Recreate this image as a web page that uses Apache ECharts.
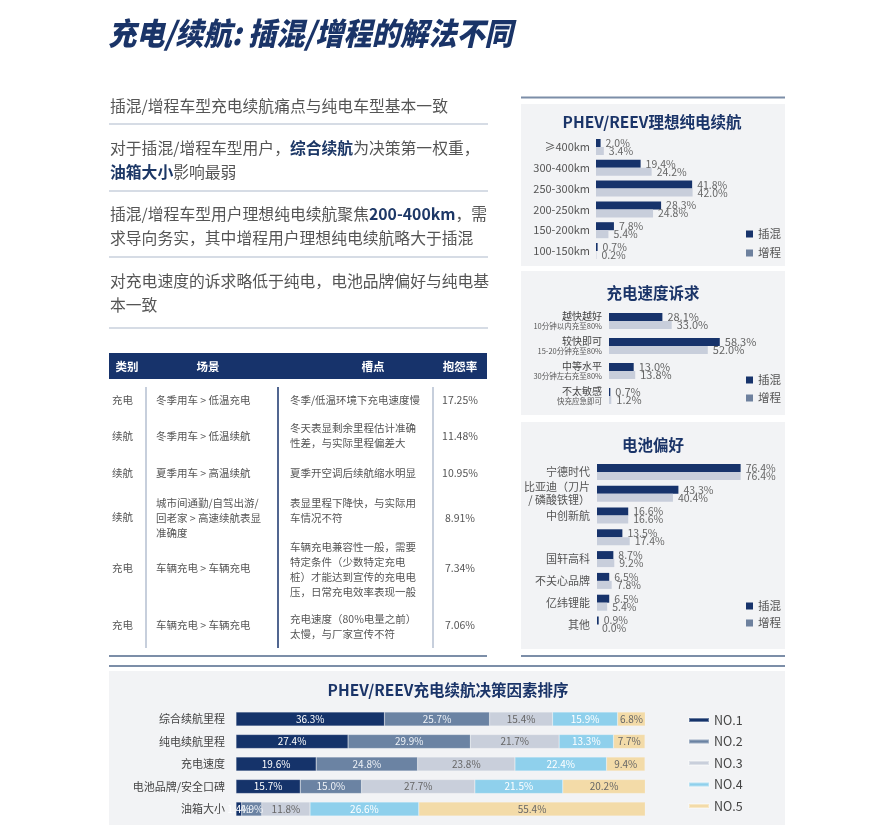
<!DOCTYPE html>
<html><head><meta charset="utf-8">
<script src="https://cdn.jsdelivr.net/npm/echarts@6/dist/echarts.min.js"></script>
<style>html,body{margin:0;padding:0;background:#fff}#c{width:890px;height:825px}</style>
</head><body><div id="c"></div>
<script>
const FONT = '"Noto Sans CJK SC","Noto Sans",sans-serif';
const NAVY = '#17336b';
const LIGHT = '#c8cedb';
const LINEC = '#7c8ea8';

// ---- data ----
const rangeCats = ['≥400km','300-400km','250-300km','200-250km','150-200km','100-150km'];
const rangePHEV = [2.0,19.4,41.8,28.3,7.8,0.7];
const rangeREEV = [3.4,24.2,42.0,24.8,5.4,0.2];

const speedCats = ['越快越好','较快即可','中等水平','不太敏感'];
const speedSubs = ['10分钟以内充至80%','15-20分钟充至80%','30分钟左右充至80%','快充应急即可'];
const speedPHEV = [28.1,58.3,13.0,0.7];
const speedREEV = [33.0,52.0,13.8,1.2];

const brandCats = ['宁德时代','比亚迪（刀片\n/ 磷酸铁锂）','中创新航','','国轩高科','不关心品牌','亿纬锂能','其他'];
const brandPHEV = [76.4,43.3,16.6,13.5,8.7,6.5,6.5,0.9];
const brandREEV = [76.4,40.4,16.6,17.4,9.2,7.8,5.4,0.0];

const rankCats = ['综合续航里程','纯电续航里程','充电速度','电池品牌/安全口碑','油箱大小'];
const rankNames = ['NO.1','NO.2','NO.3','NO.4','NO.5'];
const rankNo1 = [36.3,27.4,19.6,15.7,1.4];
const rankNo2 = [25.7,29.9,24.8,15.0,4.9];
const rankNo3 = [15.4,21.7,23.8,27.7,11.8];
const rankNo4 = [15.9,13.3,22.4,21.5,26.6];
const rankNo5 = [6.8,7.7,9.4,20.2,55.4];

const tableHead = ['类别','场景','槽点','抱怨率'];
const tableCat = ['充电','续航','续航','续航','充电','充电'];
const tableScene = ['冬季用车 > 低温充电','冬季用车 > 低温续航','夏季用车 > 高温续航','城市间通勤/自驾出游/\n回老家 > 高速续航表显\n准确度','车辆充电 > 车辆充电','车辆充电 > 车辆充电'];
const tablePain = ['冬季/低温环境下充电速度慢','冬天表显剩余里程估计准确\n性差，与实际里程偏差大','夏季开空调后续航缩水明显','表显里程下降快，与实际用\n车情况不符','车辆充电兼容性一般，需要\n特定条件（少数特定充电\n桩）才能达到宣传的充电电\n压，日常充电效率表现一般','充电速度（80%电量之前）\n太慢，与厂家宣传不符'];
const tableRate = ['17.25%','11.48%','10.95%','8.91%','7.34%','7.06%'];

// ---- layout ----
const rowY = [400,436,473,517,568,625];
const painY = [400,436,473,510.5,569.5,627];
const sceneY = [400,436,473,518,568,625];

const chart = echarts.init(document.getElementById('c'));

const pct = p => (+p.value).toFixed(1) + '%';
function barLabel(size){ return {show:true, position:'right', distance:5, formatter:pct, color:'#666', fontSize:size, fontFamily:FONT}; }

const graphic = [];
// panels
[[521,104,264,162],[521,271,264,144],[521,422,264,227],[109,671,676,154]].forEach(r=>{
  graphic.push({type:'rect', z:0, shape:{x:r[0],y:r[1],width:r[2],height:r[3]}, style:{fill:'#f2f3f5'}});
});
// separator lines
[[521,97.5,785,97.5],[109,656,487,656],[521,656,785,656],[109,666,785,666]].forEach(l=>{
  graphic.push({type:'line', z:1, shape:{x1:l[0],y1:l[1],x2:l[2],y2:l[3]}, style:{stroke:LINEC, lineWidth:2}});
});
// main title
graphic.push({type:'text', z:5, x:108, y:33, scaleX:0.91, style:{text:'充电/续航: 插混/增程的解法不同', fill:'#1a3468', fontSize:31, fontWeight:900, fontStyle:'italic', fontFamily:FONT, verticalAlign:'middle'}});
// left paragraphs
const PF = 15.8;
const richP = {n:{fill:'#555', fontSize:PF, fontFamily:FONT, lineHeight:24}, b:{fill:'#1c3766', fontSize:PF, fontWeight:'bold', fontFamily:FONT, lineHeight:24}};
[
  [106,'{n|插混/增程车型充电续航痛点与纯电车型基本一致}'],
  [160,'{n|对于插混/增程车型用户，}{b|综合续航}{n|为决策第一权重，}\n{b|油箱大小}{n|影响最弱}'],
  [226,'{n|插混/增程车型用户理想纯电续航聚焦}{b|200-400km}{n|，需}\n{n|求导向务实，其中增程用户理想纯电续航略大于插混}'],
  [293,'{n|对充电速度的诉求略低于纯电，电池品牌偏好与纯电基}\n{n|本一致}']
].forEach(p=>{
  graphic.push({type:'text', z:5, x:110, y:p[0], style:{text:p[1], rich:richP, verticalAlign:'middle', fontSize:PF, fontFamily:FONT}});
});
[124,191,257,328].forEach(y=>{
  graphic.push({type:'line', z:1, shape:{x1:109,y1:y,x2:488,y2:y}, style:{stroke:'#c9d1dd', lineWidth:1.5}});
});
// table
graphic.push({type:'rect', z:1, shape:{x:109,y:353,width:378,height:26}, style:{fill:NAVY}});
[[127,'center'],[208,'center'],[373,'center'],[460,'center']].forEach((h,i)=>{
  graphic.push({type:'text', z:5, x:h[0], y:366.5, style:{text:tableHead[i], fill:'#fff', fontSize:11.5, fontWeight:'bold', fontFamily:FONT, align:h[1], verticalAlign:'middle'}});
});
[[146,'#b4bfd0'],[278,NAVY],[433,'#b4bfd0']].forEach(v=>{
  graphic.push({type:'line', z:1, shape:{x1:v[0],y1:387,x2:v[0],y2:648}, style:{stroke:v[1], lineWidth:1.5}});
});
const cellStyle = (t,align)=>({text:t, fill:'#555', fontSize:10.5, lineHeight:15, fontFamily:FONT, align:align, verticalAlign:'middle'});
tableCat.forEach((t,i)=>{
  graphic.push({type:'text', z:5, x:112, y:rowY[i], style:cellStyle(t,'left')});
  graphic.push({type:'text', z:5, x:156, y:sceneY[i], style:cellStyle(tableScene[i],'left')});
  graphic.push({type:'text', z:5, x:290, y:painY[i], style:cellStyle(tablePain[i],'left')});
  graphic.push({type:'text', z:5, x:460, y:sceneY[i], style:cellStyle(tableRate[i],'center')});
});
// panel titles
[[652,122,'PHEV/REEV理想纯电续航'],[653,293,'充电速度诉求'],[653,445,'电池偏好'],[448,690,'PHEV/REEV充电续航决策因素排序']].forEach(t=>{
  graphic.push({type:'text', z:5, x:t[0], y:t[1], style:{text:t[2], fill:'#1a3468', fontSize:15.5, fontWeight:'bold', fontFamily:FONT, align:'center', verticalAlign:'middle'}});
});

const catAxisBase = {type:'category', inverse:true, axisLine:{show:false}, axisTick:{show:false}, splitLine:{show:false}};
const valAxis = i => ({type:'value', gridIndex:i, min:0, max:100, show:false});

const legendBase = {orient:'vertical', icon:'rect', itemWidth:7, itemHeight:7, textStyle:{color:'#555', fontSize:11.5, lineHeight:12, fontFamily:FONT}, selectedMode:false,
  data:[{name:'插混', itemStyle:{color:NAVY}}, {name:'增程', itemStyle:{color:'#6e819e'}}]};

const option = {
  animation:false,
  textStyle:{fontFamily:FONT},
  graphic:graphic,
  grid:[
    {left:596, top:136.6, width:230, height:124.8},
    {left:609, top:308.5, width:190, height:100},
    {left:597, top:461, width:188, height:174.4},
    {left:236, top:707.75, width:409, height:112.5}
  ],
  xAxis:[valAxis(0), valAxis(1), valAxis(2), valAxis(3)],
  yAxis:[
    Object.assign({}, catAxisBase, {gridIndex:0, data:rangeCats, axisLabel:{color:'#555', fontSize:11, margin:6, fontFamily:FONT}}),
    Object.assign({}, catAxisBase, {gridIndex:1, data:speedCats, axisLabel:{margin:7, formatter:(v,i)=>'{a|'+v+'}\n{b|'+speedSubs[i]+'}',
      rich:{a:{fontSize:10, color:'#444', lineHeight:11, align:'right', fontFamily:FONT}, b:{fontSize:7.5, color:'#555', lineHeight:10, align:'right', fontFamily:FONT}}}}),
    Object.assign({}, catAxisBase, {gridIndex:2, data:brandCats, axisLabel:{color:'#555', fontSize:11, lineHeight:13, margin:7, fontFamily:FONT}}),
    Object.assign({}, catAxisBase, {gridIndex:3, data:rankCats, axisLabel:{color:'#444', fontSize:11, margin:11, fontFamily:FONT}})
  ],
  legend:[
    Object.assign({}, legendBase, {left:741, top:223, itemGap:7}),
    Object.assign({}, legendBase, {left:741, top:369, itemGap:6}),
    Object.assign({}, legendBase, {left:741, top:595, itemGap:5}),
    {orient:'vertical', left:683, top:708, icon:'rect', itemWidth:20, itemHeight:4, itemGap:7.5, selectedMode:false,
     textStyle:{color:'#444', fontSize:12.5, lineHeight:14, fontFamily:FONT}, data:rankNames}
  ],
  series:[
    {name:'插混', type:'bar', xAxisIndex:0, yAxisIndex:0, data:rangePHEV, barWidth:8, barGap:'0%', itemStyle:{color:NAVY}, label:barLabel(10.5)},
    {name:'增程', type:'bar', xAxisIndex:0, yAxisIndex:0, data:rangeREEV, barWidth:8, barGap:'0%', itemStyle:{color:LIGHT}, label:barLabel(10.5)},
    {name:'插混', type:'bar', xAxisIndex:1, yAxisIndex:1, data:speedPHEV, barWidth:8, barGap:'0%', itemStyle:{color:NAVY}, label:barLabel(11)},
    {name:'增程', type:'bar', xAxisIndex:1, yAxisIndex:1, data:speedREEV, barWidth:8, barGap:'0%', itemStyle:{color:LIGHT}, label:barLabel(11)},
    {name:'插混', type:'bar', xAxisIndex:2, yAxisIndex:2, data:brandPHEV, barWidth:8, barGap:'0%', itemStyle:{color:NAVY}, label:barLabel(10.5)},
    {name:'增程', type:'bar', xAxisIndex:2, yAxisIndex:2, data:brandREEV, barWidth:8, barGap:'0%', itemStyle:{color:LIGHT}, label:barLabel(10.5)}
  ]
};
const rankData = [rankNo1, rankNo2, rankNo3, rankNo4, rankNo5];
const rankColors = ['#15336a','#6b83a3','#c9cfdb','#8fd0ec','#f3dba8'];
const rankLabelColors = ['#fff','#eef2f7','#666','#fff','#666'];
rankData.forEach((d,i)=>{
  option.series.push({name:rankNames[i], type:'bar', stack:'rank', xAxisIndex:3, yAxisIndex:3, data:d, barWidth:14,
    itemStyle:{color:rankColors[i], borderColor:'rgba(255,255,255,0.35)', borderWidth:0.5},
    label:{show:true, position:'inside', formatter:pct, color:rankLabelColors[i], fontSize:10, fontFamily:FONT}});
});
chart.setOption(option);
</script>
</body></html>
